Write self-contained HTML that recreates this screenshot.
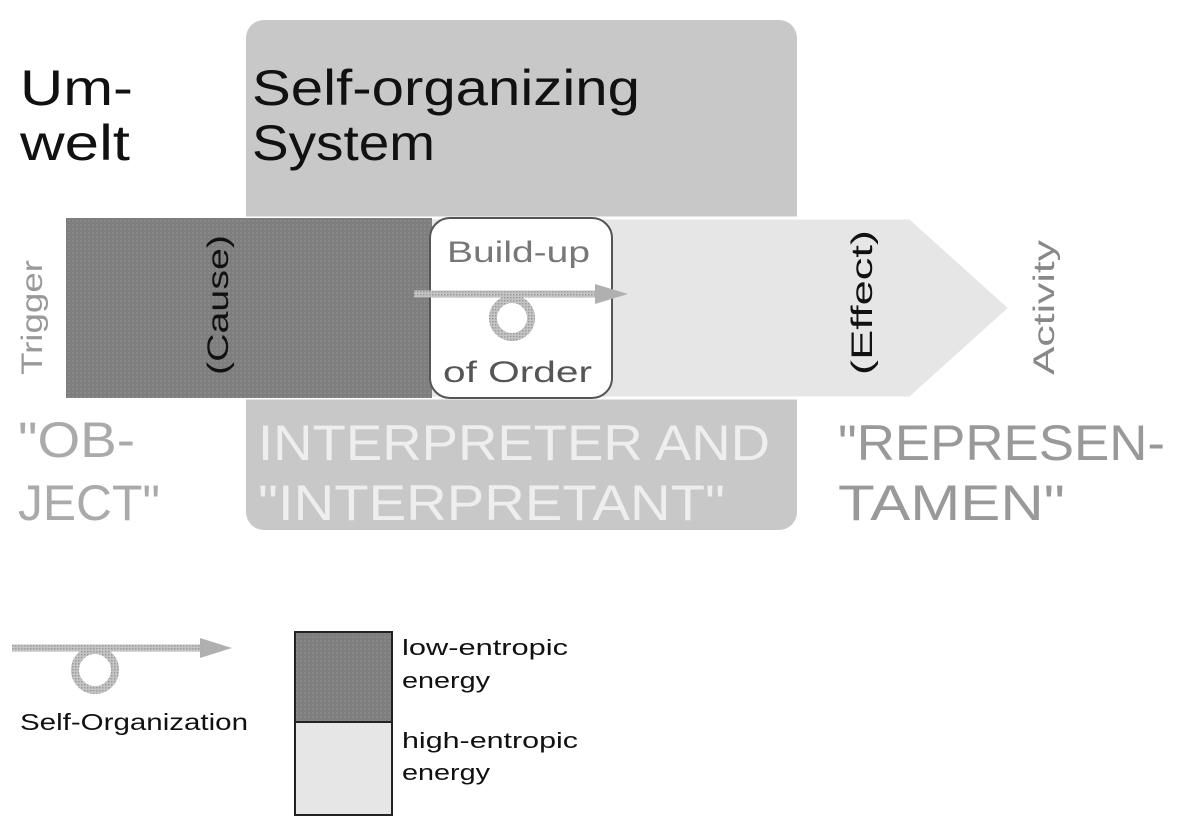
<!DOCTYPE html>
<html><head><meta charset="utf-8"><style>
html,body{margin:0;padding:0;background:#fff;width:1185px;height:826px;overflow:hidden}
svg{display:block}
text{font-family:"Liberation Sans","DejaVu Sans",sans-serif}
</style></head><body>
<svg width="1185" height="826" viewBox="0 0 1185 826" xmlns="http://www.w3.org/2000/svg">
<defs>
<pattern id="dk" width="4" height="4" patternUnits="userSpaceOnUse"><rect width="4" height="4" fill="#7e7e7e"/><rect width="2" height="2" fill="#888"/></pattern>
<pattern id="ht" width="3" height="3" patternUnits="userSpaceOnUse"><rect width="3" height="3" fill="#c4c4c4"/><rect width="1.5" height="1.5" fill="#9a9a9a"/></pattern>
</defs>
<rect x="246" y="20" width="551" height="510" rx="18" fill="#c8c8c8"/>
<polygon points="66,218 910,218 1010,308 910,398 66,398" fill="#e6e6e6" stroke="#fff" stroke-width="3"/>
<rect x="66" y="218" width="366" height="180" fill="url(#dk)"/>
<rect x="430" y="218" width="182" height="180" rx="20" fill="#fff" stroke="#555" stroke-width="2"/>
<text x="20" y="105" font-size="50" fill="#111" textLength="113" lengthAdjust="spacingAndGlyphs">Um-</text>
<text x="20" y="160" font-size="50" fill="#111" textLength="110" lengthAdjust="spacingAndGlyphs">welt</text>
<text x="252" y="105" font-size="50" fill="#111" textLength="388" lengthAdjust="spacingAndGlyphs">Self-organizing</text>
<text x="252" y="160" font-size="50" fill="#111" textLength="183" lengthAdjust="spacingAndGlyphs">System</text>
<text transform="translate(42,375) rotate(-90)" font-size="30" fill="#999" textLength="115" lengthAdjust="spacingAndGlyphs">Trigger</text>
<text transform="translate(228,375) rotate(-90)" font-size="30" fill="#111" textLength="140" lengthAdjust="spacingAndGlyphs">(Cause)</text>
<text transform="translate(872,375) rotate(-90)" font-size="30" fill="#111" textLength="145" lengthAdjust="spacingAndGlyphs">(Effect)</text>
<text transform="translate(1054,375) rotate(-90)" font-size="30" fill="#888" textLength="135" lengthAdjust="spacingAndGlyphs">Activity</text>
<text x="447" y="262" font-size="30" fill="#777" textLength="143" lengthAdjust="spacingAndGlyphs">Build-up</text>
<text x="443" y="382" font-size="30" fill="#555" textLength="149" lengthAdjust="spacingAndGlyphs">of Order</text>
<line x1="414" y1="294" x2="610" y2="294" stroke="url(#ht)" stroke-width="7"/>
<polygon points="595,284 628,294 595,304" fill="#b0b0b0"/>
<circle cx="512" cy="318" r="19" fill="none" stroke="url(#ht)" stroke-width="8"/>
<text x="18" y="457" font-size="50" fill="#aaa" textLength="117" lengthAdjust="spacingAndGlyphs">"OB-</text>
<text x="18" y="520" font-size="50" fill="#aaa" textLength="142" lengthAdjust="spacingAndGlyphs">JECT"</text>
<text x="258" y="460" font-size="50" fill="#eee" textLength="512" lengthAdjust="spacingAndGlyphs">INTERPRETER AND</text>
<text x="258" y="520" font-size="50" fill="#eee" textLength="467" lengthAdjust="spacingAndGlyphs">"INTERPRETANT"</text>
<text x="838" y="460" font-size="50" fill="#999" textLength="327" lengthAdjust="spacingAndGlyphs">"REPRESEN-</text>
<text x="838" y="520" font-size="50" fill="#999" textLength="227" lengthAdjust="spacingAndGlyphs">TAMEN"</text>
<line x1="12" y1="648" x2="215" y2="648" stroke="url(#ht)" stroke-width="7"/>
<polygon points="200,638 232,648 200,658" fill="#b0b0b0"/>
<circle cx="95" cy="670" r="20" fill="none" stroke="url(#ht)" stroke-width="8"/>
<text x="20" y="730" font-size="23" fill="#111" textLength="228" lengthAdjust="spacingAndGlyphs">Self-Organization</text>
<rect x="295" y="632" width="97" height="90" fill="url(#dk)" stroke="#222" stroke-width="2"/>
<rect x="295" y="722" width="97" height="93" fill="#e6e6e6" stroke="#222" stroke-width="2"/>
<text x="402" y="655" font-size="22" fill="#111" textLength="166" lengthAdjust="spacingAndGlyphs">low-entropic</text>
<text x="402" y="688" font-size="22" fill="#111" textLength="88" lengthAdjust="spacingAndGlyphs">energy</text>
<text x="402" y="748" font-size="22" fill="#111" textLength="176" lengthAdjust="spacingAndGlyphs">high-entropic</text>
<text x="402" y="780" font-size="22" fill="#111" textLength="88" lengthAdjust="spacingAndGlyphs">energy</text>
</svg>
</body></html>
